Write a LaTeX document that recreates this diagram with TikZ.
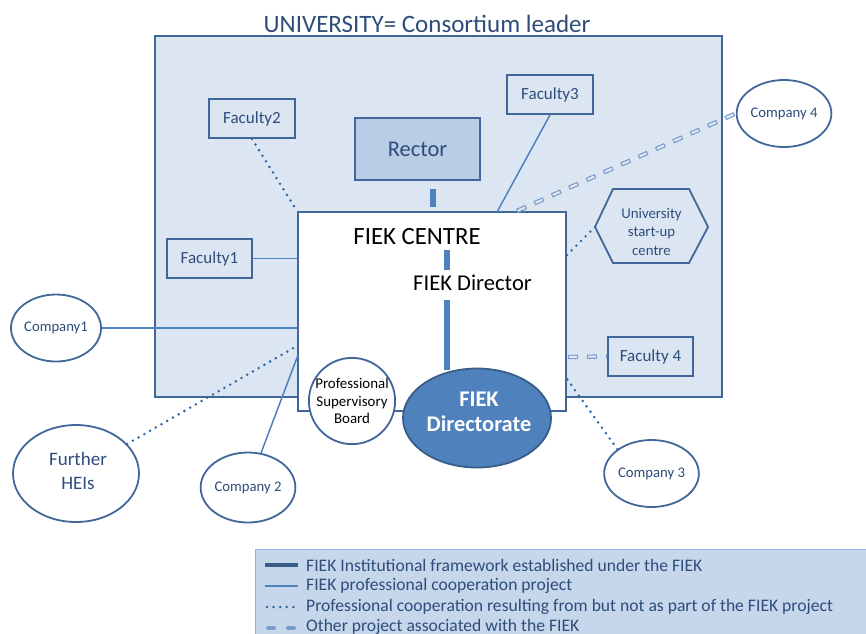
\documentclass[tikz,border=0pt]{standalone}
\usepackage{fontspec}
\setmainfont{Carlito}
\usetikzlibrary{shapes.geometric}

\definecolor{uniFill}{HTML}{DCE6F2}
\definecolor{frameCol}{HTML}{41679A}
\definecolor{txtBlue}{HTML}{2E4D7B}
\definecolor{rectorFill}{HTML}{B9CDE5}
\definecolor{midBlue}{HTML}{4F81BD}
\definecolor{dirEdge}{HTML}{385D8A}
\definecolor{dotCol}{HTML}{2A69A6}
\definecolor{dashOut}{HTML}{7A9CCB}
\definecolor{dashIn}{HTML}{E2EAF5}
\definecolor{legFill}{HTML}{C6D6EB}
\definecolor{legEdge}{HTML}{8DB3E2}

\newcommand{\fsz}[2]{\fontsize{#1}{#2}\selectfont}

\begin{document}
\begin{tikzpicture}[x=1pt,y=-1pt,
  frame/.style={draw=frameCol,line width=1.8pt},
  facbox/.style={frame,fill=uniFill,minimum width=86pt,minimum height=39pt,
    text=txtBlue,font=\fsz{17}{20},inner sep=0pt},
  company/.style={ellipse,frame,fill=white,minimum width=86pt,minimum height=67pt,
    text=txtBlue,font=\fsz{14.7}{17},inner sep=0pt},
  inst/.style={draw=midBlue,line width=6pt},
  proj/.style={draw=midBlue,line width=1.5pt},
  dotl/.style={draw=dotCol,line width=2.8pt,line cap=round,dash pattern=on 0pt off 6.6pt},
  dashl/.style={draw=dashOut,line width=4.4pt,dash pattern=on 10pt off 9pt,
    postaction={draw=dashIn,line width=2pt,dash pattern=on 0pt off 1.2pt on 7.6pt off 10.2pt}},
  legdash/.style={draw=dashOut,line width=4pt,line cap=round,dash pattern=on 6pt off 14pt},
  leglabel/.style={anchor=west,text=txtBlue,font=\fsz{17.6}{20},inner sep=0pt}
]
\useasboundingbox (0,0) rectangle (866,633);
\clip (0,0) rectangle (866,633);

% University frame and its title
\node[text=txtBlue,font=\fsz{25}{28}] (title) at (427,24) {UNIVERSITY= Consortium leader};
\node[frame,fill=uniFill,minimum width=567pt,minimum height=361pt] (uni) at (438.5,216.5) {};

% Faculties and the rector
\node[facbox] (f2) at (252,118.5) {Faculty2};
\node[facbox] (f3) at (550,94.5) {Faculty3};
\node[facbox,minimum width=85pt] (f1) at (209.5,258.5) {Faculty1};
\node[facbox,minimum width=85pt] (f4) at (650.5,356.5) {Faculty 4};
\node[frame,fill=rectorFill,minimum width=125pt,minimum height=62pt,
  text=txtBlue,font=\fsz{22.4}{26}] (rector) at (417.5,149) {Rector};

% University start-up centre (hexagon)
\draw[frame,fill=uniFill] (595,227) -- (613,189) -- (689,189) -- (708,227)
  -- (689,263) -- (613,263) -- cycle;
\coordinate (uscW) at (595,227);
\node[text=txtBlue,font=\fsz{14.8}{18.5},align=center] (usc) at (651.5,231.5) {University\\start-up\\centre};

% FIEK centre
\node[frame,fill=white,minimum width=268pt,minimum height=199pt] (centre) at (432,311.5) {};
\node[font=\fsz{24.8}{28},inner xsep=0pt,inner ysep=6pt,text height=16pt,text depth=0pt]
  (ctitle) at (417,236) {FIEK CENTRE};
\node[font=\fsz{22.6}{26},inner xsep=0pt,inner ysep=6pt,text height=14pt,text depth=4pt]
  (dirlab) at (472.5,285) {FIEK Director};

% Outside partners
\node[company] (c1) at (56,328) {Company1};
\node[company,minimum width=126pt,minimum height=97pt] (heis) at (76,473.5) {};
\node[text=txtBlue,font=\fsz{19}{24},align=center] (heistext) at (78,470.5) {Further\\HEIs};
\node[company,minimum width=87pt,minimum height=70pt] (c2) at (248,487.5) {Company 2};
\node[company,minimum width=87pt] (c3) at (651.5,473.5) {Company 3};
\node[company] (c4) at (784,113.5) {Company 4};

% Connector end points on the centre frame
\coordinate (cF3) at (497,212);
\coordinate (cC4) at (517,211);
\coordinate (cUsc) at (566,256);
\coordinate (cF4) at (568,357);
\coordinate (cC3) at (567,379);
\coordinate (cHeis) at (297,346);
\coordinate (cC2) at (298,355);

% Professional cooperation project links
\draw[proj] (c1.east) -- (c1.east -| centre.west);
\draw[proj] (f1.east) -- (f1.east -| centre.west);
\draw[proj] (f3.south) -- (cF3);
\draw[proj] (c2) -- (cC2);

% Cooperation resulting from the project
\draw[dotl] (f2.south) -- (centre.north west);
\draw[dotl] (heis) -- (cHeis);
\draw[dotl] (uscW) -- (cUsc);
\draw[dotl] (c3.north west) -- (cC3);

% Other associated projects
\draw[dashl] (cC4) -- (c4.west);
\draw[dashl] (cF4) -- (f4.west);

% Supervisory board and directorate
\node[circle,frame,fill=white,minimum size=80pt,inner sep=0pt,
  font=\fsz{14.9}{17.5},align=center] (board) at (352,401) {Professional\\Supervisory\\Board};
\node[ellipse,draw=dirEdge,line width=1.8pt,fill=midBlue,minimum width=148pt,
  minimum height=99pt,inner sep=0pt] (dir) at (477,418) {};
\node[text=white,font=\bfseries\fsz{22.4}{24.5},align=center] (dirtext) at (479,412)
  {FIEK\\Directorate};

% Institutional framework line
\draw[inst] ([xshift=15.5pt,yshift=-8pt]rector.south) -- ([xshift=15.5pt,yshift=4pt]rector.south |- centre.north);
\draw[inst] ([xshift=-30pt]dir.north |- dirlab.north) -- ([xshift=-30pt]dir.north |- ctitle.south);
\draw[inst] ([xshift=-30pt,yshift=-2pt]dir.north) -- ([xshift=-30pt]dir.north |- dirlab.south);

% Legend
\draw[draw=legEdge,line width=1pt,fill=legFill] (255,549) rectangle (880,650);
\coordinate (l1) at (265,565);
\coordinate (l2) at (265,586);
\coordinate (l3) at (265,607);
\coordinate (l4) at (268,628);
\draw[draw=dirEdge,line width=4pt] (l1) -- ++(33,0);
\draw[proj] (l2) -- ++(33,0);
\draw[dotl] ([xshift=2pt]l3) -- ++(31,0);
\draw[legdash] (l4) -- ++(28,0);
\node[leglabel] (t1) at (306,565) {FIEK Institutional framework established under the FIEK};
\node[leglabel] (t2) at (306,586) {FIEK professional cooperation project};
\node[leglabel] (t3) at (306,607) {Professional cooperation resulting from but not as part of the FIEK project};
\node[leglabel] (t4) at (306,627) {Other project associated with the FIEK};
\end{tikzpicture}
\end{document}
